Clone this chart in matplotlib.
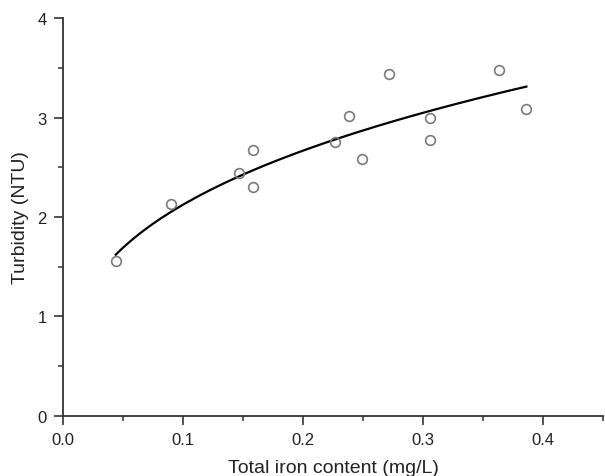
import numpy as np
import matplotlib.pyplot as plt
from matplotlib.ticker import MultipleLocator

# measured points
iron = [0.044, 0.090, 0.147, 0.158, 0.158, 0.227, 0.238, 0.249, 0.272, 0.306, 0.306, 0.363, 0.386]
turbidity = [1.56, 2.13, 2.44, 2.67, 2.30, 2.75, 3.02, 2.58, 3.44, 3.00, 2.77, 3.48, 3.09]

# power fit y = a * x^b
b, ln_a = np.polyfit(np.log(iron), np.log(turbidity), 1)
a = np.exp(ln_a)
x_fit = np.linspace(min(iron), max(iron), 200)
y_fit = a * x_fit ** b

plt.rcParams['font.family'] = ['Liberation Sans', 'DejaVu Sans']

fig = plt.figure(figsize=(6.05, 4.77), dpi=100)
ax = fig.add_axes([0.104, 0.126, 0.893, 0.834])

ax.plot(x_fit, y_fit, color='black', linewidth=1.6, zorder=2)
ax.plot(iron, turbidity, 'o', markerfacecolor='none', markeredgecolor='#7a7a7a',
        markersize=7, markeredgewidth=1.2, zorder=3)

ax.set_xlim(0, 0.45)
ax.set_ylim(0, 4)
ax.xaxis.set_major_locator(MultipleLocator(0.1))
ax.xaxis.set_minor_locator(MultipleLocator(0.05))
ax.yaxis.set_major_locator(MultipleLocator(1))
ax.yaxis.set_minor_locator(MultipleLocator(0.5))
ax.xaxis.set_major_formatter(plt.FormatStrFormatter('%.1f'))

for side in ['top', 'right']:
    ax.spines[side].set_visible(False)
for side in ['left', 'bottom']:
    ax.spines[side].set_color('#333333')
    ax.spines[side].set_linewidth(1.3)

ax.tick_params(which='major', direction='out', length=6.5, width=1.2, color='#333333',
               labelsize=12, labelcolor='#222222', pad=5)
ax.tick_params(which='minor', direction='out', length=3.5, width=1.1, color='#333333')

ax.set_xlabel('Total iron content (mg/L)', fontsize=14, color='#222222', labelpad=9)
ax.set_ylabel('Turbidity (NTU)', fontsize=14, color='#222222', labelpad=6)

fig.savefig('out.png', dpi=100)
